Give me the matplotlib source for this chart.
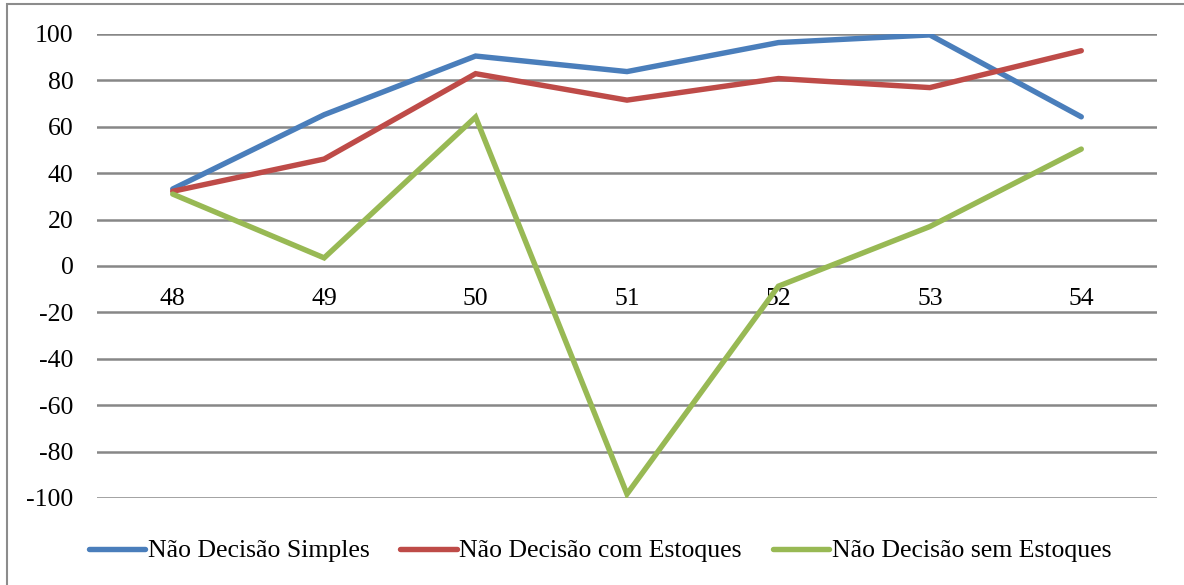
import matplotlib

matplotlib.use("Agg")
import matplotlib.pyplot as plt
from matplotlib.patches import Rectangle

plt.rcParams["font.family"] = ["Liberation Serif", "DejaVu Serif"]

# --- data ---
periods = ["48", "49", "50", "51", "52", "53", "54"]
nd_simples = [33.2, 65.2, 90.5, 83.8, 96.3, 99.6, 64.3]
nd_com_estoques = [32.2, 46.1, 82.9, 71.5, 80.8, 76.9, 92.8]
nd_sem_estoques = [31.0, 3.5, 64.2, -98.3, -8.7, 17.0, 50.4]
y_ticks = [-100, -80, -60, -40, -20, 0, 20, 40, 60, 80, 100]

series = [
    ("Não Decisão Simples", nd_simples, "#4A7EBB"),
    ("Não Decisão com Estoques", nd_com_estoques, "#BE4B48"),
    ("Não Decisão sem Estoques", nd_sem_estoques, "#98B954"),
]

FS = 18.5

fig = plt.figure(figsize=(11.84, 5.85), dpi=100)
ax = fig.add_axes([97 / 1184, 1 - 498 / 585, 1060 / 1184, 464 / 585])

# chart frame
fig.patches.append(
    Rectangle((7 / 1184, -0.01), 1.0, 1 - 4 / 585 + 0.01,
              transform=fig.transFigure, fill=False,
              edgecolor="#8C8C8C", linewidth=1.5)
)

x = list(range(len(periods)))
for label, values, color in series:
    ax.plot(x, values, color=color, linewidth=3.9, label=label,
            solid_capstyle="round", solid_joinstyle="miter")

ax.set_xlim(-0.5, len(periods) - 0.5)
ax.set_ylim(-100, 100)
ax.set_yticks(y_ticks)
ax.set_yticklabels([str(v) for v in y_ticks])
ax.grid(True, axis="y", color="#878787", linewidth=1.8)
ax.set_axisbelow(True)

# category labels sit just under the zero line
ax.spines["bottom"].set_position(("data", 0))
for side in ["top", "right", "left", "bottom"]:
    ax.spines[side].set_visible(False)
ax.set_xticks(x)
ax.set_xticklabels(periods)
ax.tick_params(axis="x", length=0, pad=16, labelsize=FS)
ax.tick_params(axis="y", length=0, pad=17, labelsize=FS)

ax.legend(loc="center", bbox_to_anchor=((600 - 97) / 1060, (551 - 498) / -464),
          ncol=3, frameon=False, fontsize=FS, handlelength=2.2,
          handletextpad=0.1, columnspacing=1.2, borderaxespad=0)

fig.savefig("out.png", dpi=100)
